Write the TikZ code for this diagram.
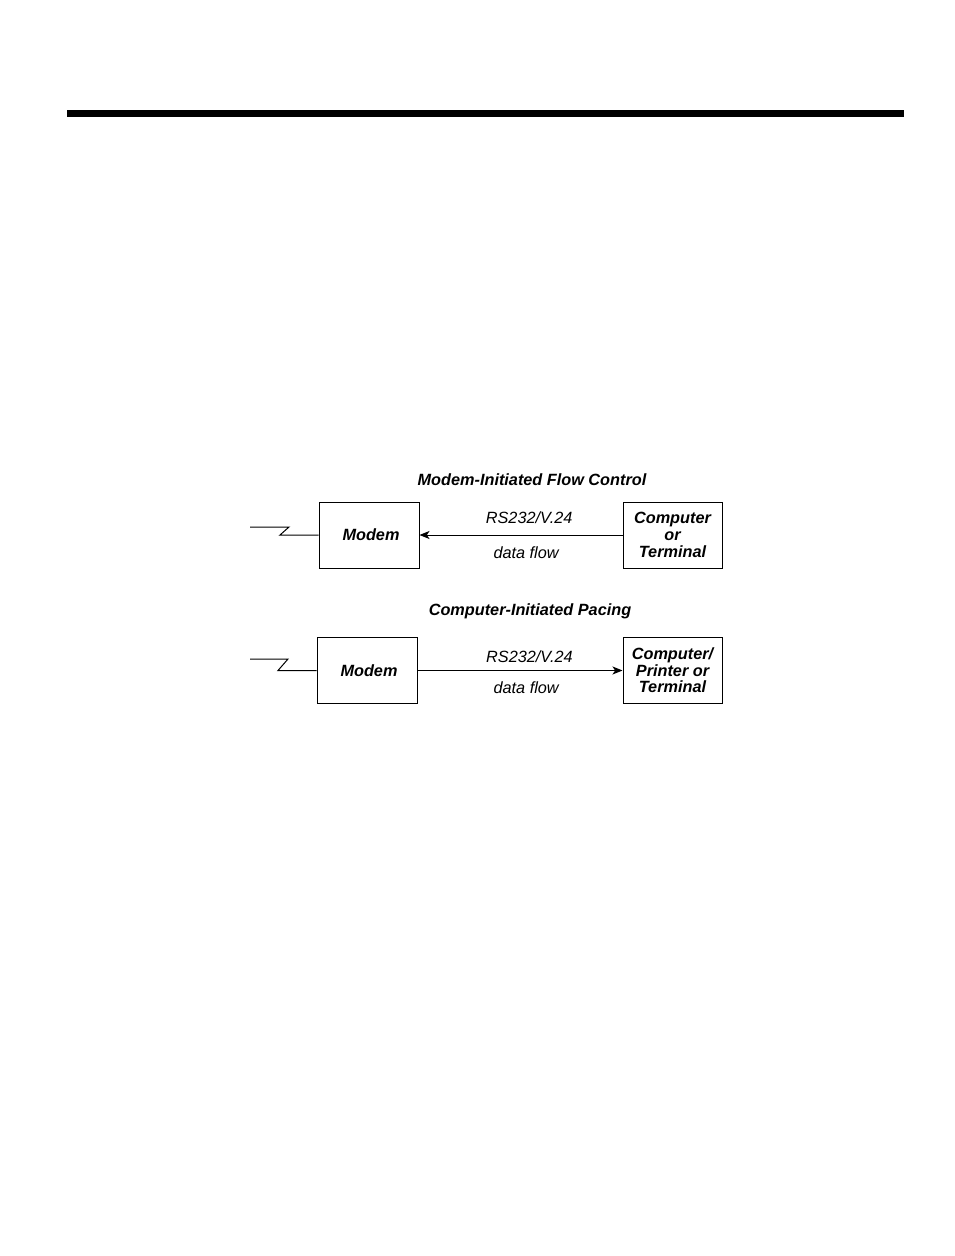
\documentclass[tikz,border=0pt]{standalone}
\usepackage{fontspec}
\setmainfont{Liberation Sans}
\usepackage{tikz}
\usetikzlibrary{positioning,arrows.meta}

\begin{document}
\begin{tikzpicture}[>={Stealth[length=7.5pt,width=6pt,inset=2pt]}, x=0.75pt, y=-0.75pt,
  line width=0.75pt,
  every node/.style={font=\fontsize{12.2}{12.5}\selectfont},
  unit/.style={draw, minimum width=75pt, minimum height=49.5pt, inner sep=0pt,
    align=center, font=\fontsize{12.2}{12.5}\selectfont\bfseries\itshape},
  title/.style={font=\fontsize{12.2}{12.5}\selectfont\bfseries\itshape},
  link/.style={font=\fontsize{12.2}{12.5}\selectfont\itshape}]
\useasboundingbox (0,0) rectangle (954,1256);

% top rule
\draw[line width=5.25pt] (67,113.5) -- (904,113.5);

% Modem-initiated (top)
\node[title] (title1) at (532,480) {Modem-Initiated Flow Control};
\node[unit] (modem1) at (369,535) {\hspace*{3pt}Modem};
\node[unit, minimum width=74.25pt] (comp1) at (672.5,535) {Computer\\or\\Terminal};
\coordinate (line1) at (250,527);

\draw[->] (comp1) -- (modem1)
  node[link, pos=0.46, above=4.5pt] {RS232/V.24}
  node[link, pos=0.475, below=5pt] {data flow};
\draw (line1) -- ++(39,0) -- ++(-9,8) -- (modem1.west);

% Computer-initiated (bottom)
\node[title] (title2) at (530,611.5) {Computer-Initiated Pacing};
\node[unit] (modem2) at (367,670.5) {\hspace*{3pt}Modem};
\node[unit, minimum width=74.25pt] (comp2) at (672.5,670.5) {Computer/\\Printer or\\Terminal};
\coordinate (line2) at (250,659);

\draw[->] (modem2) -- (comp2)
  node[link, pos=0.546, above=2.4pt] {RS232/V.24}
  node[link, pos=0.53, below=5pt] {data flow};
\draw (line2) -- ++(38,0) -- ++(-10,11.5) -- (modem2.west);
\end{tikzpicture}
\end{document}
